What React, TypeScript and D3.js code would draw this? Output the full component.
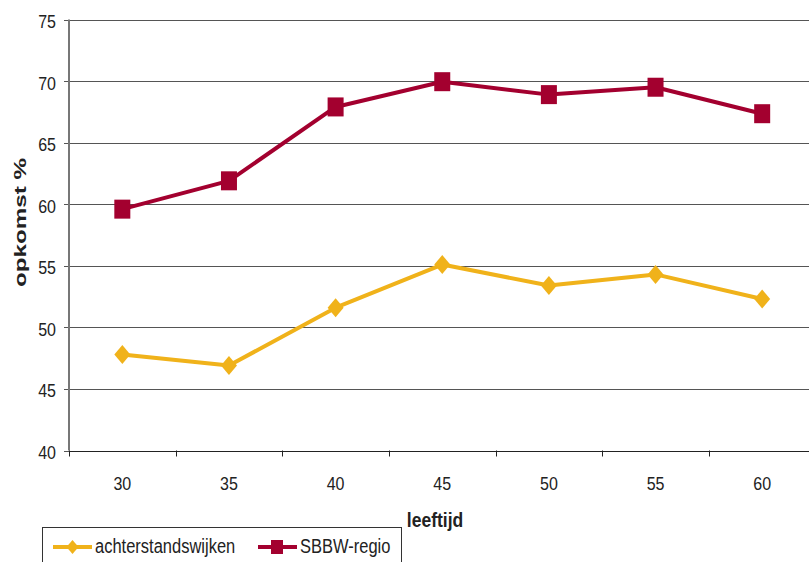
import React from "react";
import * as d3 from "d3";

const categories = ["30", "35", "40", "45", "50", "55", "60"];
const achterstandswijken = [47.8, 46.9, 51.6, 55.1, 53.4, 54.3, 52.3];
const sbbwRegio = [59.6, 61.9, 67.9, 69.95, 68.9, 69.5, 67.35];
const yTicks = [40, 45, 50, 55, 60, 65, 70, 75];
const seriesNames = ["achterstandswijken", "SBBW-regio"];

const W = 809;
const H = 562;
const left = 69;
const right = 815.5;
const top = 19.5;
const bottom = 450.5;
const RED = "#A3002F";
const YEL = "#F0B21A";
const FONT = "Liberation Sans, Arial, Helvetica, sans-serif";
const SY = 1.2;

function T(props: {
  x: number;
  y: number;
  size: number;
  anchor?: string;
  bold?: boolean;
  children: React.ReactNode;
}) {
  return (
    <text
      transform={`translate(${props.x},${props.y}) scale(1,${SY})`}
      textAnchor={props.anchor || "start"}
      fontFamily={FONT}
      fontSize={props.size}
      fontWeight={props.bold ? "bold" : "normal"}
      fill="#222"
    >
      {props.children}
    </text>
  );
}

export default function App() {
  const x = d3.scaleBand().domain(categories).range([left, right]).paddingInner(0).paddingOuter(0);
  const y = d3.scaleLinear().domain([40, 75]).range([bottom, top]);
  const cx = (c: string) => (x(c) as number) + x.bandwidth() / 2;
  const line = d3
    .line<number>()
    .x((_, i) => cx(categories[i]))
    .y((v) => y(v));
  const diamond = (px: number, py: number, hw = 8, hh = 9.5) =>
    `M${px},${py - hh}L${px + hw},${py}L${px},${py + hh}L${px - hw},${py}Z`;
  const boundaries = categories.map((c) => x(c) as number);

  return (
    <svg width={W} height={H} style={{ position: "absolute", left: 0, top: 0, background: "#fff" }}>
      <rect x={0} y={0} width={W} height={H} fill="#fff" />
      {yTicks.map((t) => (
        <g key={t}>
          <line x1={left - 5} x2={right} y1={Math.round(y(t)) + 0.5} y2={Math.round(y(t)) + 0.5} stroke="#555" strokeWidth={1} />
          <T x={56} y={y(t) + 8.5} size={16} anchor="end">
            {t}
          </T>
        </g>
      ))}
      <line x1={left} x2={left} y1={top} y2={bottom} stroke="#777" strokeWidth={2} />
      <line x1={left} x2={right} y1={Math.round(bottom) + 0.5} y2={Math.round(bottom) + 0.5} stroke="#222" strokeWidth={1} />
      {boundaries.map((b, i) => (
        <line key={i} x1={Math.round(b) + 0.5} x2={Math.round(b) + 0.5} y1={bottom} y2={bottom + 6} stroke="#222" strokeWidth={1} />
      ))}
      {categories.map((c) => (
        <T key={c} x={cx(c)} y={490} size={16} anchor="middle">
          {c}
        </T>
      ))}
      <T x={435} y={526.5} size={17.5} anchor="middle" bold>
        leeftijd
      </T>
      <text
        transform={`translate(25.5,222.5) rotate(-90)`}
        textAnchor="middle"
        fontFamily={FONT}
        fontSize={17}
        fontWeight="bold"
        fill="#222"
        textLength={129}
        lengthAdjust="spacingAndGlyphs"
      >
        opkomst %
      </text>

      <path d={line(sbbwRegio) || ""} fill="none" stroke={RED} strokeWidth={4} strokeLinejoin="round" />
      {sbbwRegio.map((v, i) => (
        <rect key={i} x={cx(categories[i]) - 8} y={y(v) - 9.5} width={16} height={19} fill={RED} />
      ))}
      <path d={line(achterstandswijken) || ""} fill="none" stroke={YEL} strokeWidth={4} strokeLinejoin="round" />
      {achterstandswijken.map((v, i) => (
        <path key={i} d={diamond(cx(categories[i]), y(v))} fill={YEL} />
      ))}

      <rect x={42.5} y={527.5} width={359} height={50} fill="#fff" stroke="#333" strokeWidth={1} />
      <line x1={53} x2={92} y1={547} y2={547} stroke={YEL} strokeWidth={4} />
      <path d={diamond(72.5, 547, 6, 7)} fill={YEL} />
      <T x={95} y={553} size={16.5}>
        {seriesNames[0]}
      </T>
      <line x1={258} x2={297} y1={547} y2={547} stroke={RED} strokeWidth={4} />
      <rect x={271} y={540} width={12} height={14} fill={RED} />
      <T x={300} y={553} size={16.5}>
        {seriesNames[1]}
      </T>
    </svg>
  );
}
